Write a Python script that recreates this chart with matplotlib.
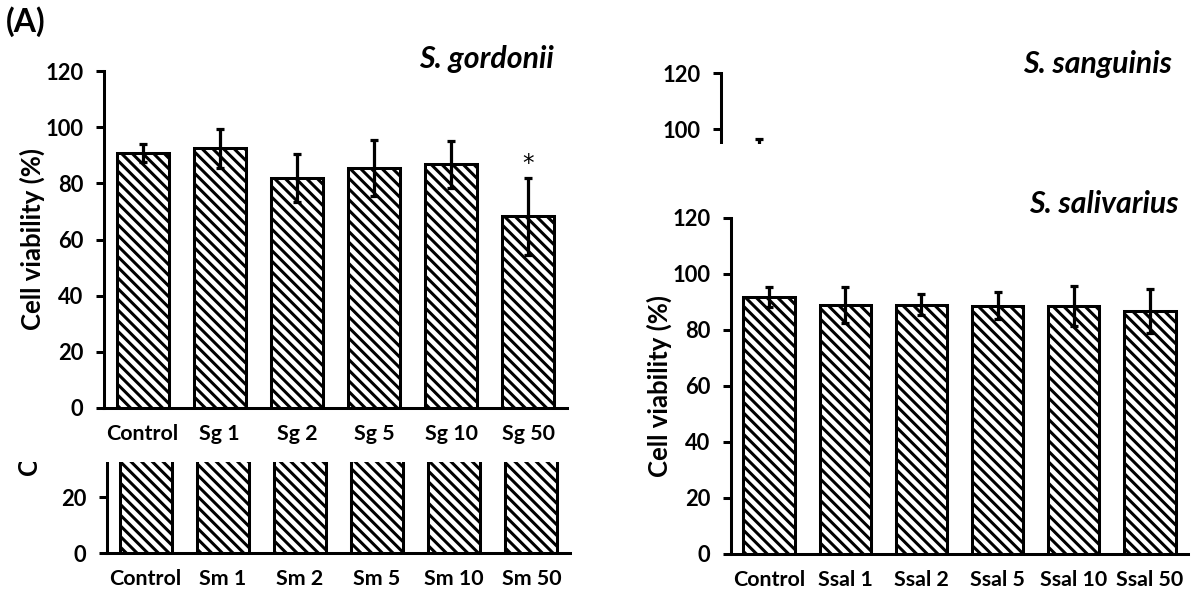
import matplotlib
matplotlib.use("Agg")
import matplotlib.pyplot as plt
from matplotlib.patches import Rectangle
from matplotlib.transforms import Bbox, TransformedBbox

# данные
sg_labels = ["Control", "Sg 1", "Sg 2", "Sg 5", "Sg 10", "Sg 50"]
sg_mean = [90.7, 92.5, 81.8, 85.4, 86.8, 68.2]
sg_sd = [3.2, 7.0, 8.5, 10.0, 8.3, 13.7]

sm_labels = ["Control", "Sm 1", "Sm 2", "Sm 5", "Sm 10", "Sm 50"]
sm_mean = [90.0, 88.0, 87.0, 86.0, 85.0, 84.0]
sm_sd = [4.0, 5.0, 5.0, 6.0, 6.0, 7.0]

ss_labels = ["Control", "Ss 1", "Ss 2", "Ss 5", "Ss 10", "Ss 50"]
ss_mean = [92.0, 90.0, 89.0, 88.0, 87.0, 86.0]
ss_sd = [4.4, 2.0, 2.0, 3.0, 3.0, 4.0]

ssal_labels = ["Control", "Ssal 1", "Ssal 2", "Ssal 5", "Ssal 10", "Ssal 50"]
ssal_mean = [91.8, 88.9, 89.0, 88.7, 88.6, 86.8]
ssal_sd = [3.6, 6.5, 3.8, 4.7, 7.1, 7.8]

W, H, DPI = 1192, 594, 128
plt.rcParams["font.family"] = ["Lato", "DejaVu Sans"]
plt.rcParams["hatch.linewidth"] = 1.7

fig = plt.figure(figsize=(W / DPI, H / DPI), dpi=DPI)


def rect(l, t, r, b):
    return [l / W, 1 - b / H, (r - l) / W, (b - t) / H]


def panel(box, labels, mean, sd, z, ylab_x):
    ax = fig.add_axes(rect(*box), zorder=z)
    ax.patch.set_visible(False)
    x = range(len(labels))
    ax.bar(x, mean, width=0.675, color="white", edgecolor="black",
           linewidth=1.7, hatch="\\\\\\\\")
    ax.errorbar(x, mean, yerr=sd, fmt="none", ecolor="black",
                elinewidth=1.8, capsize=2.3, capthick=1.8)
    ax.set_xlim(-0.5, len(labels) - 0.5)
    ax.set_ylim(0, 120)
    ax.set_yticks(range(0, 121, 20))
    ax.set_xticks(list(x))
    ax.set_xticklabels(labels, fontsize=12, fontweight="bold")
    for t in ax.get_yticklabels():
        t.set_fontsize(12.3)
        t.set_fontweight("bold")
    ax.spines[["top", "right"]].set_visible(False)
    ax.spines[["left", "bottom"]].set_linewidth(1.7)
    ax.tick_params(axis="y", direction="out", length=4.5, width=1.7, pad=7)
    ax.tick_params(axis="x", length=0, pad=9)
    ax.set_ylabel("Cell viability (%)", fontsize=14.5, fontweight="bold")
    ax.yaxis.set_label_coords(ylab_x, 0.5)
    return ax


ax_sm = panel((107, 217, 570, 553), sm_labels, sm_mean, sm_sd, 0, -0.14)
ax_sg = panel((104, 71, 567, 408), sg_labels, sg_mean, sg_sd, 2, -0.128)
ax_ss = panel((721, 73, 1178, 409), ss_labels, ss_mean, ss_sd, 0, -0.14)
ax_sal = panel((731, 218, 1188, 554), ssal_labels, ssal_mean, ssal_sd, 2, -0.13)

# подписи осей нижних панелей видны только вне перекрытой области
lab = ax_sm.yaxis.label
lab.set_clip_box(TransformedBbox(Bbox([[0, 0], [600 / W, 1 - 462 / H]]), fig.transFigure))
lab.set_clip_on(True)
lab = ax_ss.yaxis.label
lab.set_clip_box(TransformedBbox(Bbox([[600 / W, 1 - 144 / H], [1, 1]]), fig.transFigure))
lab.set_clip_on(True)

# белые подложки, перекрывающие нижние панели
fig.add_artist(Rectangle((0, 1 - 462 / H), 600 / W, 462 / H, transform=fig.transFigure,
                         facecolor="white", edgecolor="none", zorder=1))
fig.add_artist(Rectangle((600 / W, 0), 592 / W, (594 - 144) / H, transform=fig.transFigure,
                         facecolor="white", edgecolor="none", zorder=1))

ax_sg.text(5, 87.0, "*", ha="center", va="center", fontsize=13,
           family="DejaVu Sans")

fig.text(6 / W, 1 - 22 / H, "(A)", fontsize=18, fontweight="bold",
         ha="left", va="center", zorder=3)
fig.text(554 / W, 1 - 59 / H, "S. gordonii", fontsize=17, fontweight="bold",
         style="italic", ha="right", va="center", zorder=3)
fig.text(1172 / W, 1 - 64 / H, "S. sanguinis", fontsize=17, fontweight="bold",
         style="italic", ha="right", va="center", zorder=3)
fig.text(1179 / W, 1 - 204 / H, "S. salivarius", fontsize=17, fontweight="bold",
         style="italic", ha="right", va="center", zorder=3)

fig.savefig("out.png", dpi=DPI)
